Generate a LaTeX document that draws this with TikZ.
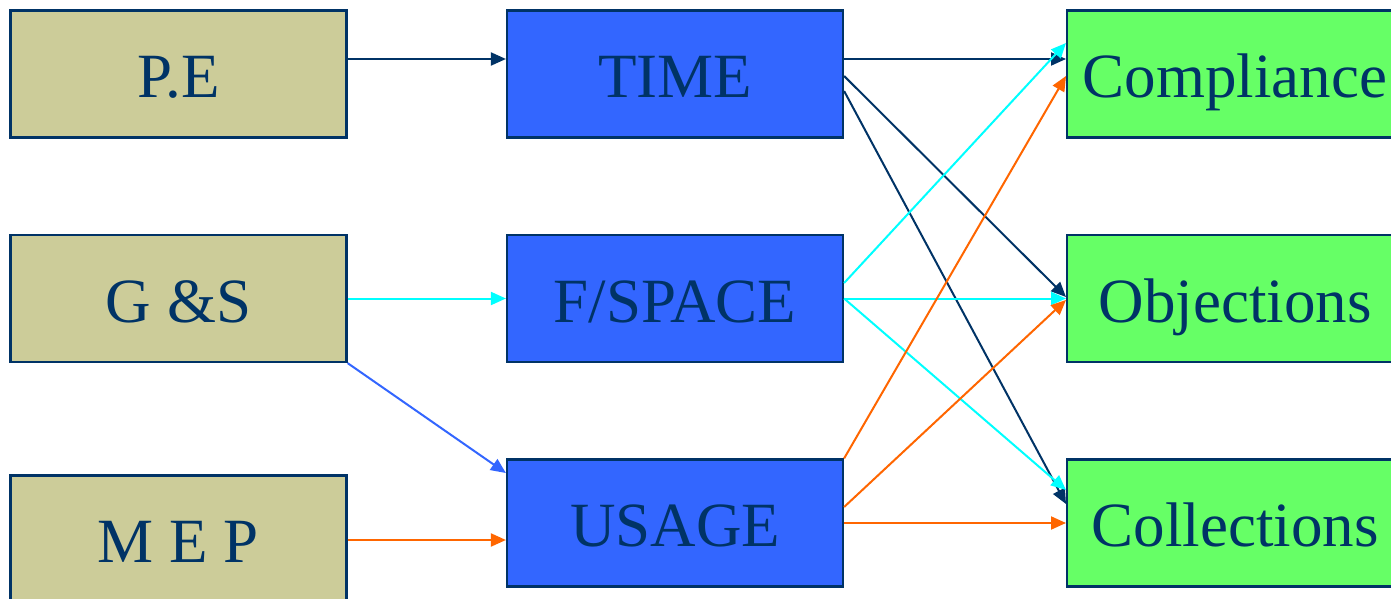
\documentclass[tikz,border=0pt]{standalone}
\usepackage{fontspec}
\setmainfont{Liberation Serif}
\usetikzlibrary{arrows.meta}
\definecolor{navy}{HTML}{003366}
\definecolor{khaki}{HTML}{CCCC99}
\definecolor{boxblue}{HTML}{3366FF}
\definecolor{boxgreen}{HTML}{66FF66}
\definecolor{lcyan}{HTML}{00FFFF}
\definecolor{lorange}{HTML}{FF6600}
\tikzset{
  box/.style={draw=navy, line width=2.2pt, minimum width=336pt, minimum height=127pt,
    inner sep=0pt, text=navy, font=\fontsize{63}{70}\selectfont,
    text height=47pt, text depth=0pt},
  srcbox/.style={box, fill=khaki},
  midbox/.style={box, fill=boxblue},
  % outcome boxes run past the right edge of the page
  outbox/.style={box, fill=boxgreen, minimum width=380pt, anchor=west,
    execute at begin node=\hspace*{-44pt}},
  link/.style={line width=2pt, -{Triangle[length=15pt,width=13pt]}},
}
\begin{document}
\begin{tikzpicture}[x=1pt, y=-1pt]
  \useasboundingbox (0,0) rectangle (1391,599);
  \fill[white] (-10,-10) rectangle (1420,620);

  % sources
  \node[srcbox] (pe)  at (178.5,74)  {P.E};
  \node[srcbox] (gs)  at (178.5,298.5) {G \&S};
  \node[srcbox] (mep) at (178.5,539) {M E P};

  % factors
  \node[midbox] (time)  at (675,74)    {TIME};
  \node[midbox] (space) at (675,298.5) {F/SPACE};
  \node[midbox] (usage) at (675,523)   {USAGE};

  % outcomes
  \node[outbox] (compl) at (1066,74)    {Compliance};
  \node[outbox] (obj)   at (1066,298.5) {Objections};
  \node[outbox] (coll)  at (1066,523)   {Collections};

  % sources to factors
  \draw[link, navy]    ([yshift=15pt]pe.east) -- ([yshift=15pt]time.west);
  \draw[link, lcyan]   (gs.east) -- (space.west);
  \draw[link, boxblue] (gs.south east) -- ([yshift=50pt]usage.west);
  \draw[link, lorange] ([yshift=-1pt]mep.east) -- ([yshift=-17pt]usage.west);

  % TIME
  \draw[link, navy] ([yshift=15pt]time.east) -- ([yshift=15pt]compl.west);
  \draw[link, navy] ([yshift=-2pt]time.east) -- ([yshift=1.5pt]obj.west);
  \draw[link, navy] ([yshift=-17pt]time.east) -- ([yshift=19pt]coll.west);

  % F/SPACE
  \draw[link, lcyan] ([yshift=15.5pt]space.east) -- ([yshift=31pt]compl.west);
  \draw[link, lcyan] (space.east) -- (obj.west);
  \draw[link, lcyan] (space.east) -- ([yshift=33pt]coll.west);

  % USAGE
  \draw[link, lorange] (usage.north east) -- ([yshift=-2pt]compl.west);
  \draw[link, lorange] ([yshift=16pt]usage.east) -- ([yshift=-1.5pt]obj.west);
  \draw[link, lorange] (usage.east) -- (coll.west);
\end{tikzpicture}
\end{document}
